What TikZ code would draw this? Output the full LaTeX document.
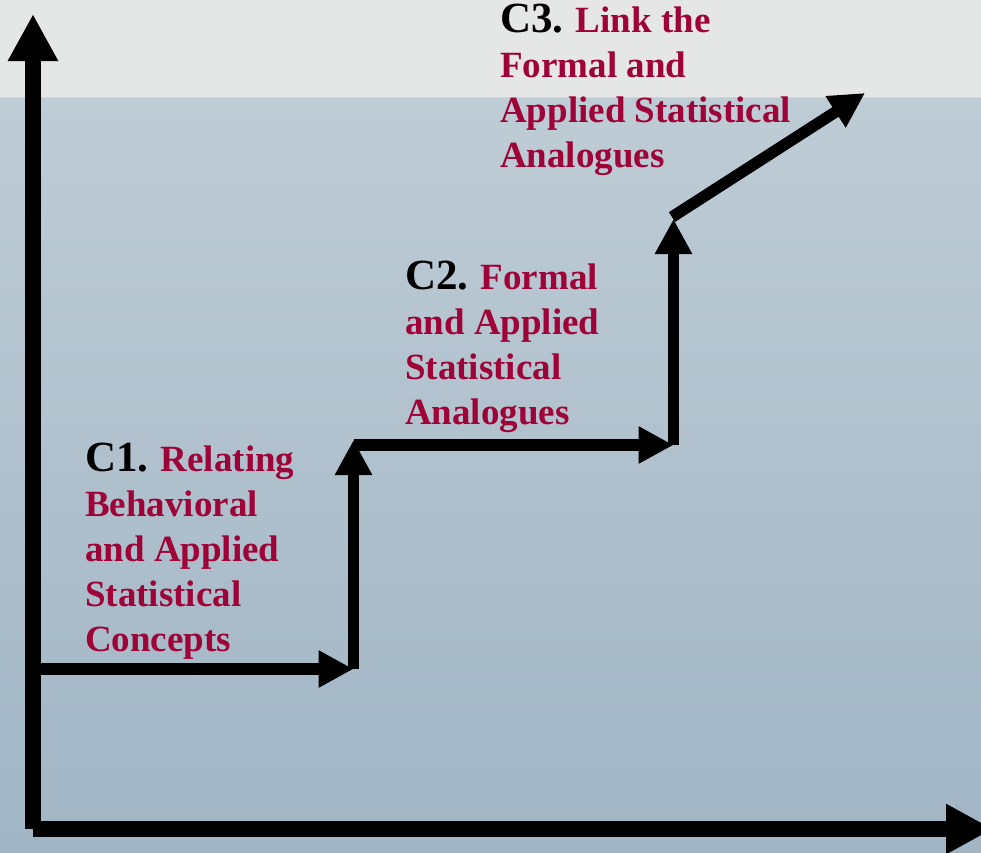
\documentclass[tikz,border=0pt]{standalone}
\usepackage{fontspec}
\setmainfont{Liberation Serif}
\usetikzlibrary{arrows.meta}
\definecolor{bandgray}{RGB}{229,231,231}
\definecolor{bgtop}{RGB}{190,204,213}
\definecolor{bgbot}{RGB}{161,181,197}
\definecolor{crim}{RGB}{158,2,54}
\tikzset{
  axisline/.style={line width=15.5pt, black, -{Triangle[width=47pt,length=47pt]}},
  stepline/.style={line width=11.5pt, black, -{Triangle[width=35pt,length=35pt]}},
  lbl/.style={anchor=base west, align=left, inner sep=0pt, text=crim, font=\bfseries\fontsize{37}{45}\selectfont},
}
\newcommand{\cnum}[1]{{\color{black}\fontsize{43}{45}\selectfont #1}}
\begin{document}
\begin{tikzpicture}[x=1pt,y=-1pt]
\useasboundingbox (0,0) rectangle (981,852);
\fill[bandgray] (0,0) rectangle (981,97);
\shade[top color=bgtop, bottom color=bgbot] (0,97) rectangle (981,852);
\draw[line width=1pt, color={rgb,255:red,205;green,212;blue,216}] (0,97) -- (981,97);
% coordinates
\coordinate (O) at (33,829);
\coordinate (Ytop) at (33,14);
\coordinate (Xend) at (993,829);
\coordinate (A) at (33,669);
\coordinate (B) at (353.5,669);
\coordinate (C) at (353.5,440);
\coordinate (D) at (353.5,445);
\coordinate (E) at (673.5,445);
\coordinate (F) at (673.5,219);
\coordinate (G) at (672,217);
\coordinate (H) at (865,93);
% axes
\draw[axisline] (O) -- (Ytop);
\draw[axisline] (O) -- (Xend);
% steps
\draw[stepline] (A) -- (B);
\draw[stepline] (B) -- (C);
\draw[stepline] (D) -- (E);
\draw[stepline] (E) -- (F);
\draw[stepline] (G) -- (H);
% labels (anchor = baseline of last line)
\node[lbl] (c1) at (85,651) {\cnum{C1.} Relating\\Behavioral\\and Applied\\Statistical\\Concepts};
\node[lbl] (c2) at (405,424) {\cnum{C2.} Formal\\and Applied\\Statistical\\Analogues};
\node[lbl] (c3) at (500,167) {\cnum{C3.} Link the\\Formal and\\Applied Statistical\\Analogues};
\end{tikzpicture}
\end{document}
